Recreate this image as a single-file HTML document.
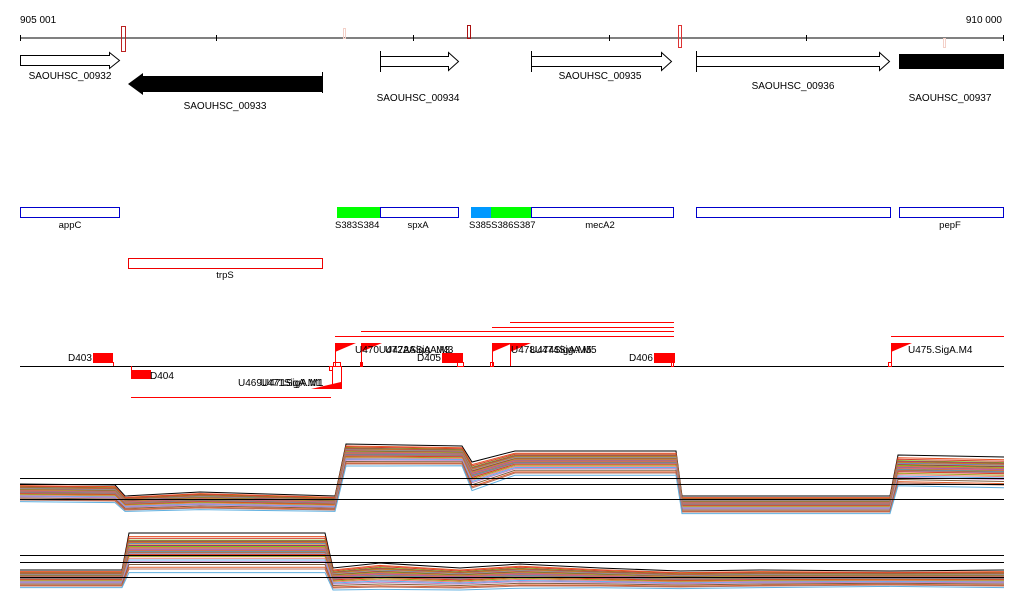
<!DOCTYPE html>
<html><head><meta charset="utf-8"><style>
html,body{margin:0;padding:0;background:#fff;}
svg{display:block;font-family:"Liberation Sans",sans-serif;font-size:10px;}
</style></head><body>
<svg id="c" width="1024" height="611" viewBox="0 0 1024 611" xmlns="http://www.w3.org/2000/svg">
<g>
<text x="20" y="23">905 001</text>
<text x="1002" y="23" text-anchor="end">910 000</text>
<line x1="20" y1="38" x2="1004" y2="38" stroke="#000"/>
<g stroke="#000"><line x1="20.5" y1="35" x2="20.5" y2="41"/><line x1="216.5" y1="35" x2="216.5" y2="41"/><line x1="413.5" y1="35" x2="413.5" y2="41"/><line x1="609.5" y1="35" x2="609.5" y2="41"/><line x1="806.5" y1="35" x2="806.5" y2="41"/><line x1="1003.5" y1="35" x2="1003.5" y2="41"/></g>
<rect x="121.5" y="26.5" width="4" height="25" fill="none" stroke="#b22"/>
<rect x="343.5" y="28.5" width="2" height="10" fill="none" stroke="#f3d0c8"/>
<rect x="467.5" y="25.5" width="3" height="13" fill="none" stroke="#a11"/>
<rect x="678.5" y="25.5" width="3" height="22" fill="none" stroke="#d33"/>
<rect x="943.5" y="38.5" width="2" height="9" fill="none" stroke="#f3d0c8"/>
</g>
<g>
<path d="M20.5 55.5H109.5V52.5L119.5 60.5L109.5 68.5V65.5H20.5Z" fill="#fff" stroke="#000"/>
<text x="70" y="79" text-anchor="middle">SAOUHSC_00932</text>
<path d="M322 76V92H143V95L128 84L143 73V76Z" fill="#000"/>
<line x1="322.5" y1="72" x2="322.5" y2="93" stroke="#000"/>
<text x="225" y="109" text-anchor="middle">SAOUHSC_00933</text>
<path d="M380.5 56.5H448.5V52.5L458.5 61.5L448.5 70.5V66.5H380.5Z" fill="#fff" stroke="#000"/>
<line x1="380.5" y1="51" x2="380.5" y2="72" stroke="#000"/>
<text x="418" y="101" text-anchor="middle">SAOUHSC_00934</text>
<path d="M531.5 56.5H661.5V52.5L671.5 61.5L661.5 70.5V66.5H531.5Z" fill="#fff" stroke="#000"/>
<line x1="531.5" y1="51" x2="531.5" y2="72" stroke="#000"/>
<text x="600" y="79" text-anchor="middle">SAOUHSC_00935</text>
<path d="M696.5 56.5H879.5V52.5L889.5 61.5L879.5 70.5V66.5H696.5Z" fill="#fff" stroke="#000"/>
<line x1="696.5" y1="51" x2="696.5" y2="72" stroke="#000"/>
<text x="793" y="89" text-anchor="middle">SAOUHSC_00936</text>
<rect x="899" y="54" width="105" height="15" fill="#000"/>
<text x="950" y="101" text-anchor="middle">SAOUHSC_00937</text>
</g>
<g font-size="9.5">
<rect x="20.5" y="207.5" width="99" height="10" fill="#fff" stroke="#00c"/>
<text x="70" y="228" text-anchor="middle">appC</text>
<rect x="337" y="207" width="44" height="11" fill="#0f0"/>
<rect x="380.5" y="207.5" width="78" height="10" fill="#fff" stroke="#00c"/>
<text x="335" y="228">S383S384</text><text x="418" y="228" text-anchor="middle">spxA</text>
<rect x="471" y="207" width="21" height="11" fill="#09f"/>
<rect x="491" y="207" width="41" height="11" fill="#0f0"/>
<rect x="531.5" y="207.5" width="142" height="10" fill="#fff" stroke="#00c"/>
<text x="469" y="228">S385S386S387</text><text x="600" y="228" text-anchor="middle">mecA2</text>
<rect x="696.5" y="207.5" width="194" height="10" fill="#fff" stroke="#00c"/>
<rect x="899.5" y="207.5" width="104" height="10" fill="#fff" stroke="#00c"/>
<text x="950" y="228" text-anchor="middle">pepF</text>
<rect x="128.5" y="258.5" width="194" height="10" fill="#fff" stroke="#e00"/>
<text x="225" y="278" text-anchor="middle">trpS</text>
</g>
<g fill="#f00">
<line x1="20" y1="366.5" x2="1004" y2="366.5" stroke="#000"/>
<g stroke="#f00">
<line x1="335" y1="336.5" x2="674" y2="336.5"/><line x1="361" y1="331.5" x2="674" y2="331.5"/>
<line x1="492" y1="327.5" x2="674" y2="327.5"/><line x1="510" y1="322.5" x2="674" y2="322.5"/>
<line x1="891" y1="336.5" x2="1004" y2="336.5"/><line x1="131" y1="397.5" x2="331" y2="397.5"/>
</g>
<rect x="93" y="353" width="20" height="10"/>
<text x="68" y="361" fill="#000">D403</text>
<rect x="131" y="370" width="20" height="9"/>
<text x="150" y="379" fill="#000">D404</text>
<rect x="442" y="353" width="21" height="10"/>
<text x="417" y="361" fill="#000">D405</text>
<rect x="654" y="353" width="21" height="10"/>
<text x="629" y="361" fill="#000">D406</text>
<g stroke="#f00" fill="none">
<line x1="113.5" y1="362" x2="113.5" y2="366"/><line x1="131.5" y1="366" x2="131.5" y2="370"/>
<line x1="335.5" y1="343" x2="335.5" y2="366"/><line x1="361.5" y1="343" x2="361.5" y2="366"/>
<line x1="492.5" y1="343" x2="492.5" y2="366"/><line x1="510.5" y1="343" x2="510.5" y2="366"/>
<line x1="891.5" y1="343" x2="891.5" y2="366"/><line x1="341.5" y1="366" x2="341.5" y2="389"/>
<line x1="332.5" y1="366" x2="332.5" y2="389"/>
<rect x="333.5" y="362.5" width="7" height="4"/><rect x="329.5" y="366.5" width="3" height="4"/>
<rect x="360.5" y="362.5" width="2" height="4"/><rect x="457.5" y="362.5" width="6" height="4"/>
<rect x="490.5" y="362.5" width="3" height="4"/><rect x="671.5" y="362.5" width="2" height="4"/>
<rect x="888.5" y="362.5" width="3" height="4"/>
</g>
<path d="M335 343H356L335 352Z"/>
<path d="M361 343H382L361 352Z"/>
<path d="M492 343H513L492 352Z"/>
<path d="M510 343H531L510 352Z"/>
<path d="M891 343H912L891 352Z"/>
<path d="M341 389H311L341 382Z"/>
<g fill="#000">
<text x="355" y="353">U470U472ASigA_M3</text>
<text x="385" y="353">U472ASigA.M3</text>
<text x="511" y="353">U478U474SigA.M5</text>
<text x="530" y="353">U474SigA.M5</text>
<text x="908" y="353">U475.SigA.M4</text>
<text x="238" y="386">U469U471SigA.M1</text>
<text x="260" y="386">U471SigA.M1</text>
</g>
</g>
<g id="tracks"></g>
<script>
// Track 1 (upper expression panel): knot positions (genome px) and median level
var track1X = [20, 115, 125, 200, 335, 346, 462, 472, 515, 676, 682, 890, 898, 1004];
var track1Level = [492, 493, 503, 500, 503, 454, 455, 475, 462, 462, 504, 504, 469, 471];
var track1Spread = [8, 8, 7, 8, 7, 10, 9, 13, 11, 11, 8, 8, 14, 14];
// Track 2 (lower expression panel)
var track2X = [20, 122, 129, 325, 333, 380, 460, 520, 600, 680, 760, 890, 1004];
var track2Level = [578, 578, 551, 551, 578, 575, 578, 575, 577, 579, 578, 578, 578];
var track2Spread = [8, 8, 18, 18, 10, 12, 10, 11, 9, 8, 8, 7, 8];
// Per-sample relative offsets (-1 high .. 1 low)
var sampleOffset = [-1.0, -0.8, -0.7, -0.6, -0.55, -0.5, -0.45, -0.4, -0.35, -0.3, -0.25, -0.2, -0.15, -0.1, -0.05, 0, 0.05, 0.1, 0.15, 0.2, 0.3, 0.4, 0.5, 0.6, 0.75, 0.9, 1.0, 1.2];
var sampleColor = ["#000", "#e85020", "#d04030", "#60c000", "#c02080", "#9a8a20", "#e87030", "#4090e0", "#f0a040", "#902060", "#70d010", "#e06060", "#d08040", "#8060c0", "#f06080", "#b08030", "#40a0e0", "#c06020", "#9090d0", "#e04020", "#a0a020", "#f08080", "#60b0f0", "#c080c0", "#806040", "#e06030", "#b07060", "#60b0e0"];
var refLines1 = [478, 484, 499];
var refLines2 = [555, 562, 577];

var NS = "http://www.w3.org/2000/svg";
var g = document.getElementById("tracks");
function yFor(levels, spreads, i, off) { return levels[i] + off * spreads[i]; }
function drawTrack(xs, levels, spreads, refs, name) {
  sampleOffset.forEach(function (off, s) {
    var d = "";
    for (var i = 0; i < xs.length; i++) {
      d += (i ? "L" : "M") + xs[i] + " " + yFor(levels, spreads, i, off).toFixed(1);
    }
    var p = document.createElementNS(NS, "path");
    
    
    p.setAttribute("d", d);
    p.setAttribute("fill", "none");
    p.setAttribute("stroke", sampleColor[s]);
    p.setAttribute("stroke-width", "1");
    g.appendChild(p);
  });
  refs.forEach(function (ry) {
    var l = document.createElementNS(NS, "line");
    
    
    l.setAttribute("x1", 20); l.setAttribute("x2", 1004);
    l.setAttribute("y1", ry + 0.5); l.setAttribute("y2", ry + 0.5);
    l.setAttribute("stroke", "#000");
    g.appendChild(l);
  });
}
drawTrack(track1X, track1Level, track1Spread, refLines1, "track1");
drawTrack(track2X, track2Level, track2Spread, refLines2, "track2");
</script>
</svg>
</body></html>
